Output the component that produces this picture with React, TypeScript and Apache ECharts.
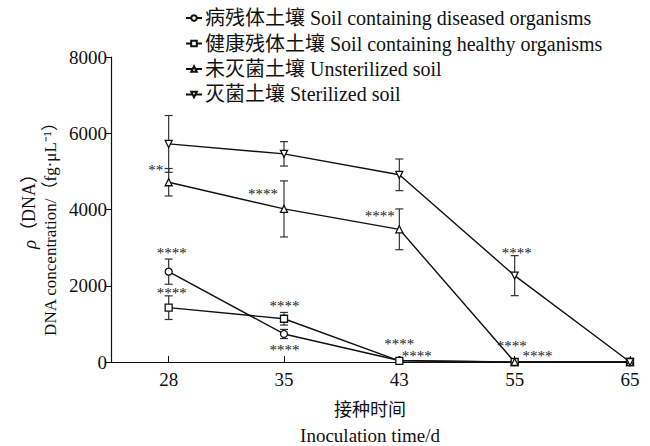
import React, { useEffect, useRef } from "react";
import * as echarts from "echarts";

const categories = ["28", "35", "43", "55", "65"];
const seriesNames = [
  "病残体土壤 Soil containing diseased organisms",
  "健康残体土壤 Soil containing healthy organisms",
  "未灭菌土壤 Unsterilized soil",
  "灭菌土壤 Sterilized soil",
];
const diseased = [2370, 735, 40, 0, 0];
const diseasedErr = [330, 120, 0, 0, 0];
const healthy = [1425, 1135, 30, 0, 0];
const healthyErr = [310, 165, 0, 0, 0];
const unsterilized = [4715, 4015, 3480, 0, 0];
const unsterilizedErr = [360, 735, 535, 0, 0];
const sterilized = [5720, 5460, 4910, 2265, 0];
const sterilizedErr = [745, 320, 415, 525, 0];

// significance marks: [x position on category scale (1..5), y value, text]
const marks: [number, number, string][] = [
  [0.887, 5140, "**"],
  [1.818, 4510, "****"],
  [2.831, 3935, "****"],
  [1.026, 2965, "****"],
  [1.026, 1915, "****"],
  [2.004, 1575, "****"],
  [2.004, 420, "****"],
  [3.0, 577, "****"],
  [3.152, 262, "****"],
  [4.017, 2965, "****"],
  [3.974, 525, "****"],
  [4.199, 262, "****"],
];

const yTicks = [0, 2000, 4000, 6000, 8000];

const FONT = "'Liberation Serif', 'Times New Roman', 'Noto Sans CJK SC', serif";
const INK = "#111";

export default function App() {
  const ref = useRef<HTMLDivElement>(null);
  useEffect(() => {
    if (!ref.current) return;
    const chart = echarts.init(ref.current, undefined, { renderer: "svg" });
    const xs = categories.map((_, i) => i + 1);
    const sets = [
      { name: seriesNames[0], vals: diseased, err: diseasedErr, symbol: "circle" },
      { name: seriesNames[1], vals: healthy, err: healthyErr, symbol: "rect" },
      { name: seriesNames[2], vals: unsterilized, err: unsterilizedErr, symbol: "triangle" },
      { name: seriesNames[3], vals: sterilized, err: sterilizedErr, symbol: "path://M0,0 L10,0 L5,9 Z" },
    ];
    const lineSeries = sets.map((s) => ({
      type: "line",
      name: s.name,
      data: s.vals.map((v, i) => [xs[i], v]),
      symbol: s.symbol,
      symbolSize: 7,
      showSymbol: true,
      lineStyle: { color: INK, width: 1.4 },
      itemStyle: { color: "#fff", borderColor: INK, borderWidth: 1.3 },
      z: 3,
    }));
    const errData: number[][] = [];
    sets.forEach((s) => {
      s.vals.forEach((v, i) => {
        if (s.err[i] > 0) errData.push([xs[i], v - s.err[i], v + s.err[i]]);
      });
    });
    const errSeries = {
      type: "custom",
      name: "err",
      data: errData,
      encode: { x: 0, y: [1, 2] },
      z: 2,
      silent: true,
      renderItem: (params: any, api: any) => {
        const x = api.value(0);
        const lo = api.coord([x, api.value(1)]);
        const hi = api.coord([x, api.value(2)]);
        const w = 4;
        const st = { stroke: "#333", lineWidth: 1.2 };
        return {
          type: "group",
          children: [
            { type: "line", shape: { x1: lo[0], y1: lo[1], x2: hi[0], y2: hi[1] }, style: st },
            { type: "line", shape: { x1: lo[0] - w, y1: lo[1], x2: lo[0] + w, y2: lo[1] }, style: st },
            { type: "line", shape: { x1: hi[0] - w, y1: hi[1], x2: hi[0] + w, y2: hi[1] }, style: st },
          ],
        };
      },
    };
    const markSeries = {
      type: "custom",
      name: "marks",
      data: marks.map((m) => [m[0], m[1]]),
      encode: { x: 0, y: 1 },
      silent: true,
      z: 4,
      itemStyle: { color: "#222" },
      renderItem: (params: any, api: any) => {
        const p = api.coord([api.value(0), api.value(1)]);
        return {
          type: "text",
          x: p[0],
          y: p[1] + 4,
          style: {
            text: marks[params.dataIndex][2],
            fill: "#222",
            fontFamily: FONT,
            fontSize: 15,
            align: "center",
            verticalAlign: "middle",
          },
        };
      },
    };
    chart.setOption({
      animation: false,
      backgroundColor: "#fff",
      grid: { left: 111, right: 20, top: 57, bottom: 84, containLabel: false },
      legend: {
        orient: "vertical",
        left: 180,
        top: 3,
        itemWidth: 16,
        itemHeight: 7,
        itemGap: 5.5,
        data: seriesNames,
        textStyle: { fontFamily: FONT, fontSize: 20, color: INK, padding: [0, 0, 0, -2] },
      },
      xAxis: {
        type: "value",
        min: 0.5,
        max: 5,
        axisLine: { show: true, lineStyle: { color: INK, width: 1.2 } },
        axisTick: { show: true, inside: true, length: 6, customValues: xs, lineStyle: { color: INK } },
        axisLabel: {
          customValues: xs,
          formatter: (v: number) => categories[Math.round(v) - 1] ?? "",
          fontFamily: FONT,
          fontSize: 19,
          color: INK,
          margin: 8,
        },
        splitLine: { show: false },
      },
      yAxis: {
        type: "value",
        min: 0,
        max: 8000,
        interval: 2000,
        axisLine: { show: true, lineStyle: { color: INK, width: 1.2 } },
        axisTick: { show: true, inside: false, length: 5, lineStyle: { color: INK } },
        axisLabel: {
          fontFamily: FONT,
          fontSize: 19,
          color: INK,
          margin: 4,
          customValues: yTicks,
          formatter: (v: number) => String(v),
        },
        splitLine: { show: false },
      },
      graphic: [
        {
          type: "text",
          x: 29,
          y: 207,
          rotation: Math.PI / 2,
          style: {
            text: "{i|ρ}（DNA）",
            rich: { i: { fontStyle: "italic", fontFamily: FONT, fontSize: 19, fill: INK } },
            fontFamily: FONT,
            fontSize: 18,
            fill: INK,
            align: "center",
            verticalAlign: "middle",
          },
        },
        {
          type: "text",
          x: 50,
          y: 225,
          rotation: Math.PI / 2,
          style: {
            text: "DNA concentration/（fg·μL⁻¹）",
            fontFamily: FONT,
            fontSize: 17,
            fill: INK,
            align: "center",
            verticalAlign: "middle",
          },
        },
        {
          type: "text",
          x: 370,
          y: 410,
          style: {
            text: "接种时间",
            fontFamily: FONT,
            fontSize: 18,
            fill: INK,
            align: "center",
            verticalAlign: "middle",
          },
        },
        {
          type: "text",
          x: 370,
          y: 435,
          style: {
            text: "Inoculation time/d",
            fontFamily: FONT,
            fontSize: 19,
            fill: INK,
            align: "center",
            verticalAlign: "middle",
          },
        },
      ],
      series: [errSeries, ...lineSeries, markSeries],
    });
    return () => chart.dispose();
  }, []);
  return <div ref={ref} style={{ width: 650, height: 446, position: "absolute", left: 0, top: 0 }} />;
}
